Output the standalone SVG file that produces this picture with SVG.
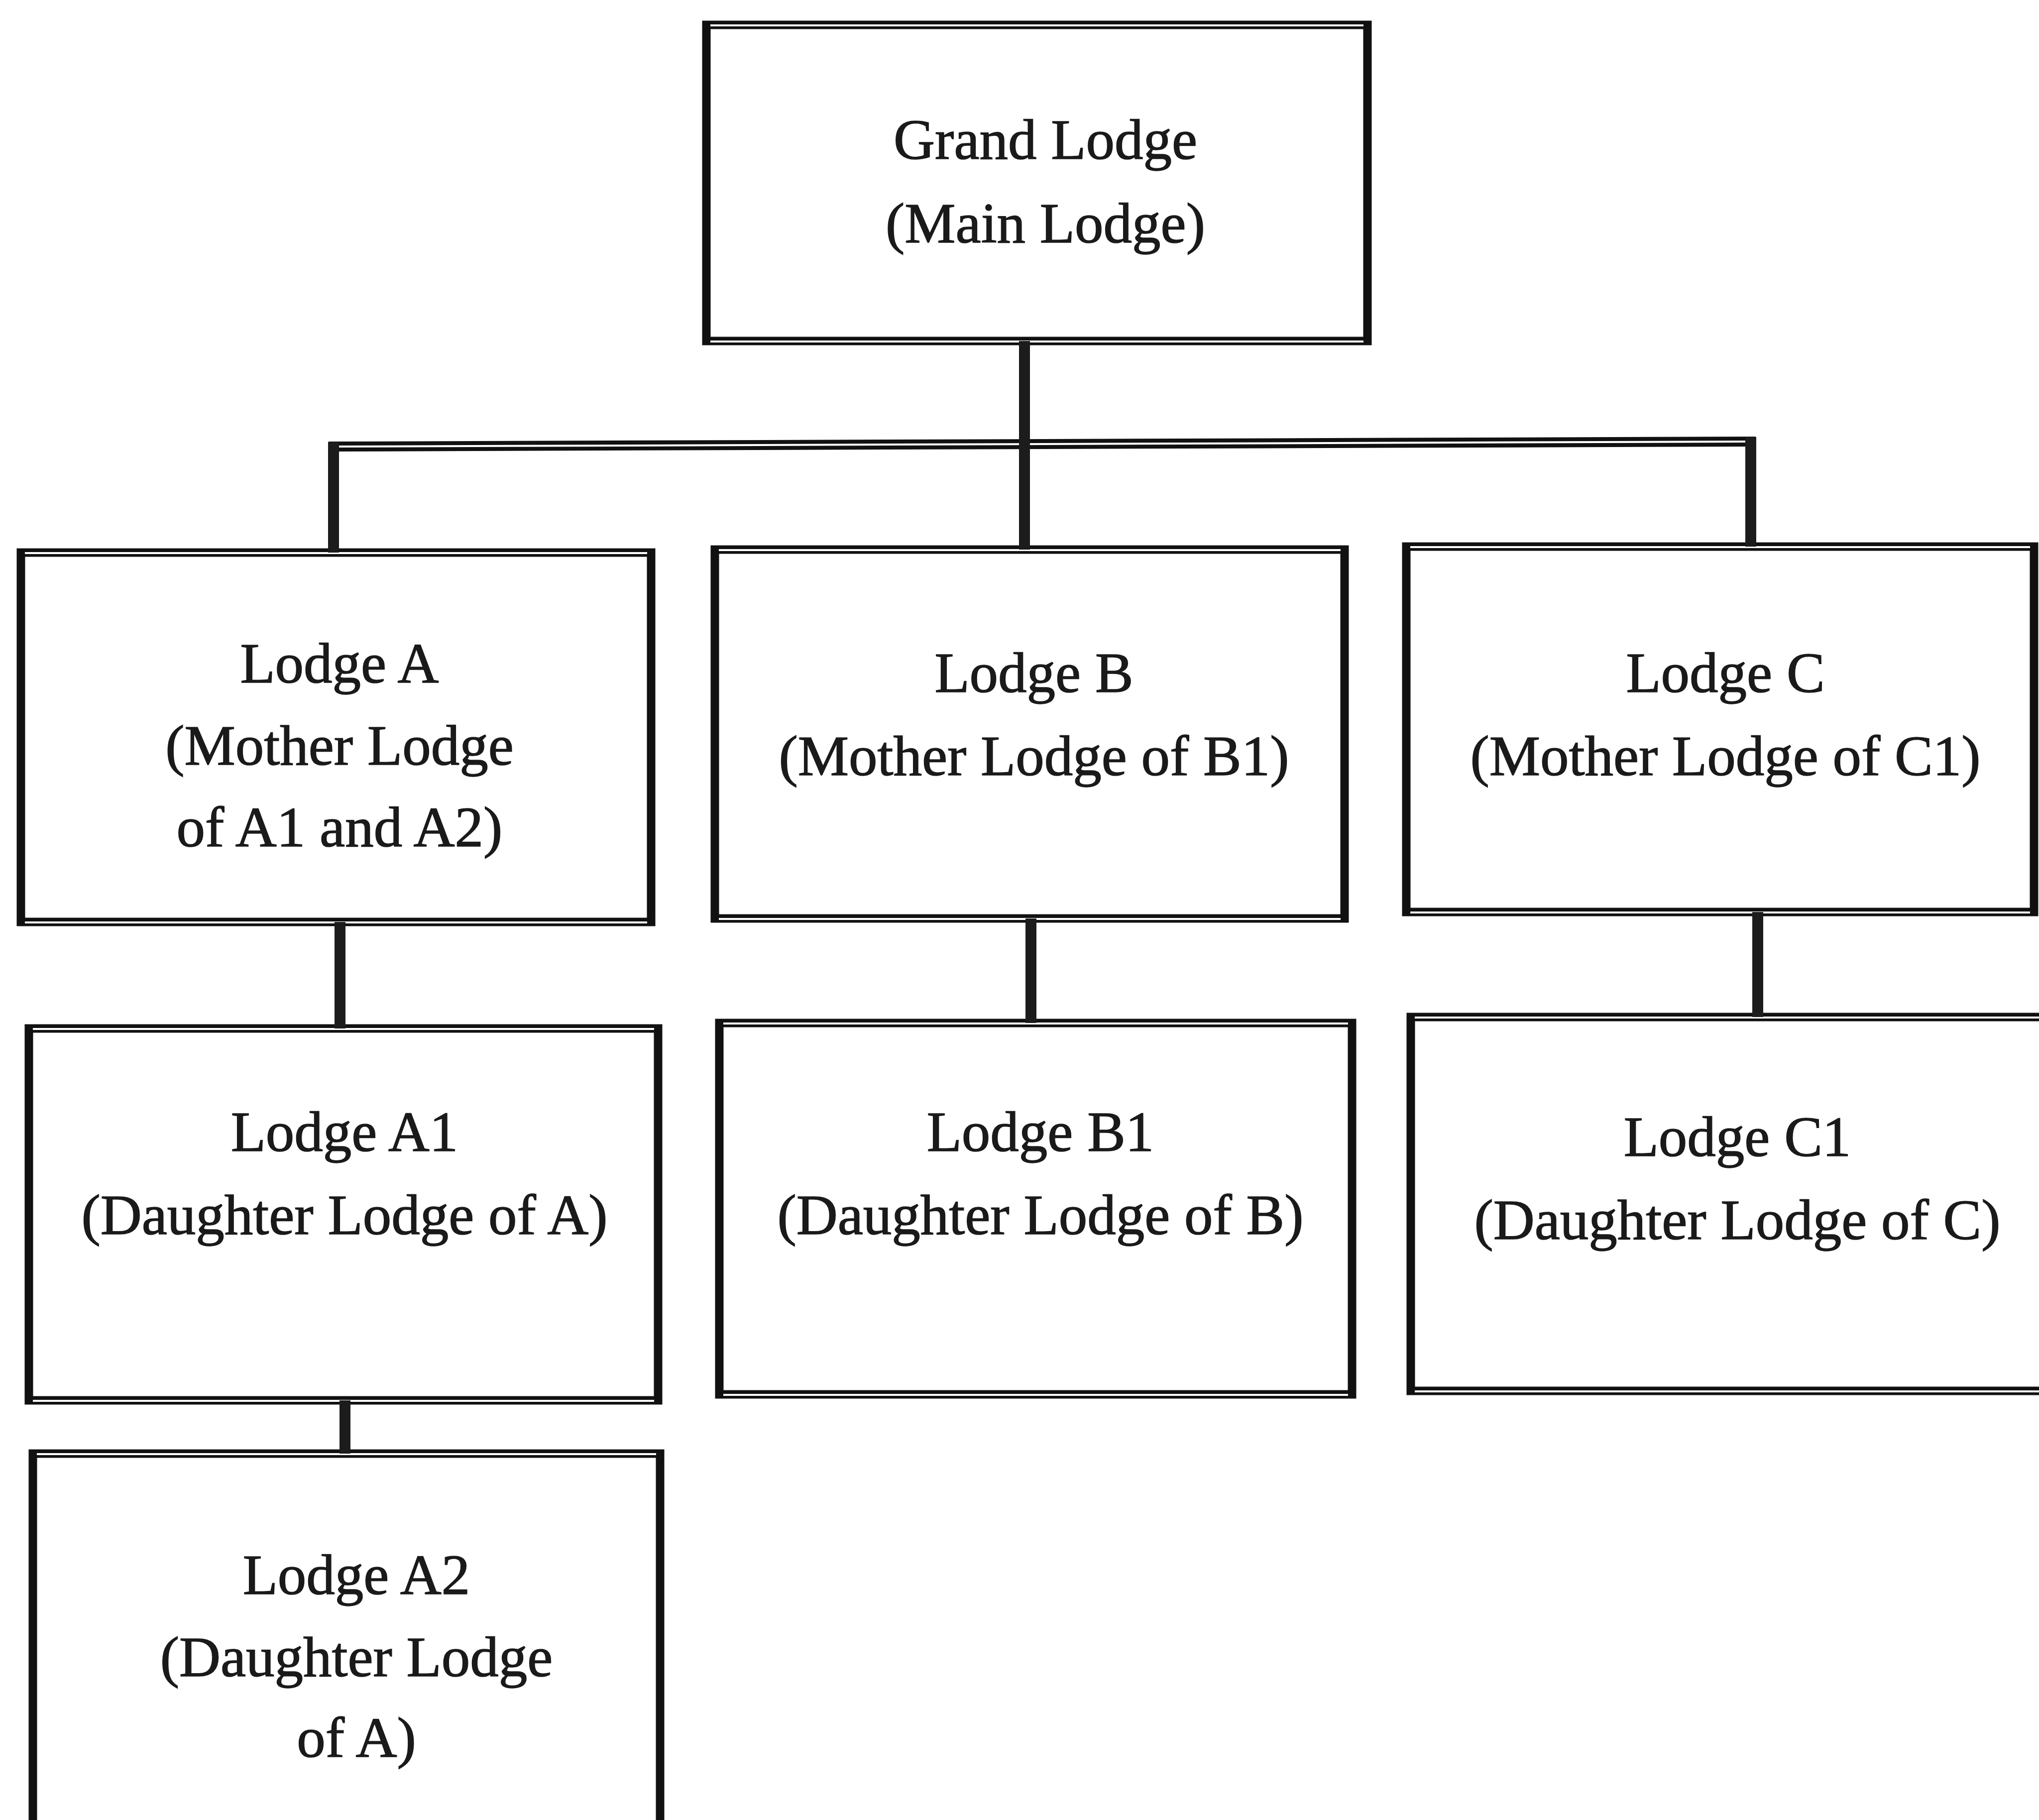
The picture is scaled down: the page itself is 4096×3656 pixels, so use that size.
<svg xmlns="http://www.w3.org/2000/svg" width="4096" height="3656" viewBox="0 0 4096 3656">
<style>
.box{fill:#fff;stroke:#111;stroke-width:17}
.gap{stroke:#fff;stroke-width:4;fill:none}
.conn{stroke:#1c1c1c;stroke-width:22;fill:none}
.hconn{stroke:#111;stroke-width:20;fill:none}
.lbl{font-family:"Liberation Serif","Times New Roman",serif;font-size:115px;text-anchor:middle;fill:#1a1a1a;stroke:#1a1a1a;stroke-width:1.5}
</style>
<rect x="0" y="0" width="4096" height="3656" fill="#fff"/>
<g id="nodes">
<g id="grand-lodge">
<rect class="box" x="1419" y="50" width="1328" height="635"/>
<path class="gap" d="M1427 51H2739M1427 686H2739"/>
<text class="lbl" x="2100" y="319">Grand Lodge</text>
<text class="lbl" x="2100" y="487">(Main Lodge)</text>
</g>
<g id="lodge-a">
<rect class="box" x="42" y="1110" width="1266" height="742"/>
<path class="gap" d="M50 1111H1300M50 1853H1300"/>
<text class="lbl" x="682" y="1371">Lodge A</text>
<text class="lbl" x="682" y="1536">(Mother Lodge</text>
<text class="lbl" x="682" y="1700">of A1 and A2)</text>
</g>
<g id="lodge-b">
<rect class="box" x="1436" y="1104" width="1265" height="741"/>
<path class="gap" d="M1444 1105H2693M1444 1846H2693"/>
<text class="lbl" x="2077" y="1390">Lodge B</text>
<text class="lbl" x="2077" y="1557">(Mother Lodge of B1)</text>
</g>
<g id="lodge-c">
<rect class="box" x="2825" y="1098" width="1261" height="734"/>
<path class="gap" d="M2833 1099H4078M2833 1833H4078"/>
<text class="lbl" x="3466" y="1390">Lodge C</text>
<text class="lbl" x="3466" y="1557">(Mother Lodge of C1)</text>
</g>
<g id="lodge-a1">
<rect class="box" x="58" y="2066" width="1264" height="747"/>
<path class="gap" d="M66 2067H1314M66 2814H1314"/>
<text class="lbl" x="692" y="2312">Lodge A1</text>
<text class="lbl" x="692" y="2479">(Daughter Lodge of A)</text>
</g>
<g id="lodge-b1">
<rect class="box" x="1445" y="2055" width="1271" height="746"/>
<path class="gap" d="M1453 2056H2708M1453 2802H2708"/>
<text class="lbl" x="2090" y="2312">Lodge B1</text>
<text class="lbl" x="2090" y="2479">(Daughter Lodge of B)</text>
</g>
<g id="lodge-c1">
<rect class="box" x="2834" y="2043" width="1276" height="751"/>
<path class="gap" d="M2842 2044H4110M2842 2795H4110"/>
<text class="lbl" x="3490" y="2322">Lodge C1</text>
<text class="lbl" x="3490" y="2489">(Daughter Lodge of C)</text>
</g>
<g id="lodge-a2">
<rect class="box" x="66" y="2920" width="1260" height="760"/>
<path class="gap" d="M74 2921H1318"/>
<text class="lbl" x="716" y="3202">Lodge A2</text>
<text class="lbl" x="716" y="3367">(Daughter Lodge</text>
<text class="lbl" x="716" y="3529">of A)</text>
</g>
</g>
<g id="connectors">
<line class="hconn" x1="660" y1="897" x2="3527" y2="887"/>
<line class="gap" x1="680" y1="897" x2="3507" y2="887"/>
<line class="conn" x1="2058" y1="685" x2="2058" y2="1104"/>
<line class="conn" x1="670" y1="888" x2="670" y2="1110"/>
<line class="conn" x1="3517" y1="878" x2="3517" y2="1098"/>
<line class="conn" x1="683" y1="1852" x2="683" y2="2066"/>
<line class="conn" x1="693" y1="2813" x2="693" y2="2920"/>
<line class="conn" x1="2071" y1="1845" x2="2071" y2="2055"/>
<line class="conn" x1="3531" y1="1832" x2="3531" y2="2043"/>
</g>
</svg>
